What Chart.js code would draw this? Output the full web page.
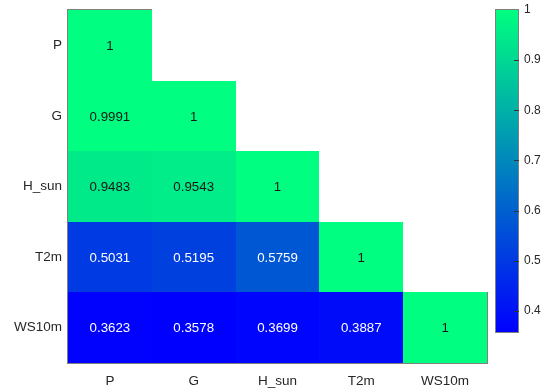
<!DOCTYPE html>
<html>
<head>
<meta charset="utf-8">
<script src="https://cdn.jsdelivr.net/npm/chart.js@4/dist/chart.umd.min.js"></script>
<style>
  html, body { margin: 0; padding: 0; background: #ffffff; }
  canvas { display: block; }
</style>
</head>
<body>
<canvas id="c" width="552" height="389"></canvas>
<script>
// Variable names (rows and columns of the correlation matrix)
const variables = ['P', 'G', 'H_sun', 'T2m', 'WS10m'];

// Lower-triangular correlation coefficients, one array per row
const rowP     = [1];
const rowG     = [0.9991, 1];
const rowHsun  = [0.9483, 0.9543, 1];
const rowT2m   = [0.5031, 0.5195, 0.5759, 1];
const rowWS10m = [0.3623, 0.3578, 0.3699, 0.3887, 1];
const matrixRows = [rowP, rowG, rowHsun, rowT2m, rowWS10m];

// Colour bar tick labels
const colorbarTicks = [0.4, 0.5, 0.6, 0.7, 0.8, 0.9, 1];

// Colour limits follow the data range
const allValues = matrixRows.flat();
const cMin = Math.min(...allValues);
const cMax = Math.max(...allValues);

// "winter" colormap: blue -> spring green
function winter(v) {
  let t = (v - cMin) / (cMax - cMin);
  t = Math.max(0, Math.min(1, t));
  const g = Math.round(255 * t);
  const b = Math.round(255 * (1 - 0.5 * t));
  return `rgb(0,${g},${b})`;
}

// One point per matrix cell (upper triangle left empty)
const cells = [];
matrixRows.forEach((row, i) => {
  row.forEach((v, j) => cells.push({ x: j, y: i, v: v }));
});

const FONT = '"Liberation Sans", Arial, Helvetica, sans-serif';
const AXIS_GRAY = '#808080';
const TEXT_DARK = '#262626';

// Draws the heatmap cells, the axes box, the cell labels and the colour bar
const heatmapPlugin = {
  id: 'heatmap',
  beforeDatasetsDraw(chart) {
    const ctx = chart.ctx;
    const xs = chart.scales.x, ys = chart.scales.y;
    const n = variables.length;
    const ca = chart.chartArea;

    // axes box
    ctx.save();
    ctx.strokeStyle = AXIS_GRAY;
    ctx.lineWidth = 1;
    ctx.strokeRect(Math.round(ca.left) - 0.5, Math.round(ca.top) - 0.5,
                   Math.round(ca.right - ca.left) + 1, Math.round(ca.bottom - ca.top) + 1);

    // empty (upper-triangle) cells are painted white
    ctx.fillStyle = '#ffffff';
    for (let i = 0; i < n; i++) {
      for (let j = i + 1; j < n; j++) {
        const x0 = Math.round(xs.getPixelForValue(j - 0.5));
        const x1 = Math.round(xs.getPixelForValue(j + 0.5));
        const y0 = Math.round(ys.getPixelForValue(i - 0.5));
        const y1 = Math.round(ys.getPixelForValue(i + 0.5));
        ctx.fillRect(x0, y0 - 1, x1 - x0 + 1, y1 - y0 + 1);
      }
    }

    // coloured cells
    const data = chart.data.datasets[0].data;
    data.forEach(c => {
      const x0 = Math.round(xs.getPixelForValue(c.x - 0.5));
      const x1 = Math.round(xs.getPixelForValue(c.x + 0.5));
      const y0 = Math.round(ys.getPixelForValue(c.y - 0.5));
      const y1 = Math.round(ys.getPixelForValue(c.y + 0.5));
      ctx.fillStyle = winter(c.v);
      ctx.fillRect(x0, y0, x1 - x0, y1 - y0);
    });

    // value labels
    ctx.font = '13.3px ' + FONT;
    ctx.textAlign = 'center';
    ctx.textBaseline = 'middle';
    data.forEach(c => {
      ctx.fillStyle = c.v < 0.75 ? '#ffffff' : '#161616';
      ctx.fillText(String(c.v), xs.getPixelForValue(c.x), ys.getPixelForValue(c.y) + 1);
    });

    // colour bar
    const cb = chart.scales.cb;
    const bx0 = Math.round(cb.left) + 9, bx1 = Math.round(cb.left) + 31;
    const by0 = Math.round(cb.getPixelForValue(cMax));
    const by1 = Math.round(cb.getPixelForValue(cMin));
    const grad = ctx.createLinearGradient(0, by1, 0, by0);
    for (let k = 0; k <= 20; k++) {
      const v = cMin + (cMax - cMin) * k / 20;
      grad.addColorStop(k / 20, winter(v));
    }
    ctx.fillStyle = grad;
    ctx.fillRect(bx0, by0, bx1 - bx0, by1 - by0);
    ctx.strokeStyle = AXIS_GRAY;
    ctx.strokeRect(bx0 - 0.5, by0 - 0.5, bx1 - bx0 + 1, by1 - by0 + 1);
    // inward tick marks
    ctx.strokeStyle = '#333333';
    colorbarTicks.forEach(t => {
      if (t >= cMax) return;
      const py = Math.round(cb.getPixelForValue(t)) + 0.5;
      ctx.beginPath();
      ctx.moveTo(bx1 - 4, py);
      ctx.lineTo(bx1 + 1, py);
      ctx.stroke();
    });
    ctx.restore();
  }
};

// lower bound of the colour bar axis, leaving the bar shorter than the plot
const cbLow = 0.296;

// fixed axis sizes, no extra label padding around the plot
function fixSize(prop, size) {
  return s => {
    s[prop] = size;
    s.paddingTop = 0; s.paddingBottom = 0;
    s.paddingLeft = 0; s.paddingRight = 0;
  };
}

const noGrid = { display: false, drawTicks: false };

new Chart(document.getElementById('c'), {
  type: 'scatter',
  data: {
    datasets: [{
      data: cells,
      pointRadius: 0,
      pointHoverRadius: 0,
      showLine: false
    }]
  },
  options: {
    responsive: false,
    animation: false,
    devicePixelRatio: 1,
    layout: { padding: { top: 10, left: 0, right: 0, bottom: 0 } },
    plugins: {
      legend: { display: false },
      tooltip: { enabled: false }
    },
    scales: {
      x: {
        type: 'linear',
        position: 'bottom',
        min: -0.5,
        max: variables.length - 0.5,
        grid: noGrid,
        border: { display: false },
        afterBuildTicks: s => { s.ticks = variables.map((_, i) => ({ value: i })); },
        afterFit: fixSize('height', 26),
        ticks: {
          autoSkip: false,
          maxRotation: 0,
          padding: 10,
          color: TEXT_DARK,
          font: { family: FONT, size: 13.5 },
          callback: v => variables[v]
        }
      },
      y: {
        type: 'linear',
        position: 'left',
        reverse: true,
        min: -0.5,
        max: variables.length - 0.5,
        grid: noGrid,
        border: { display: false },
        afterBuildTicks: s => { s.ticks = variables.map((_, i) => ({ value: i })); },
        afterFit: fixSize('width', 68),
        ticks: {
          autoSkip: false,
          padding: 6,
          color: TEXT_DARK,
          font: { family: FONT, size: 13.5 },
          callback: v => variables[v]
        }
      },
      cb: {
        type: 'linear',
        position: 'right',
        min: cbLow,
        max: cMax,
        grid: noGrid,
        border: { display: false },
        afterBuildTicks: s => { s.ticks = colorbarTicks.map(v => ({ value: v })); },
        afterFit: fixSize('width', 65),
        ticks: {
          autoSkip: false,
          padding: 37,
          color: TEXT_DARK,
          font: { family: FONT, size: 12 },
          callback: v => String(v)
        }
      }
    }
  },
  plugins: [heatmapPlugin]
});
</script>
</body>
</html>
